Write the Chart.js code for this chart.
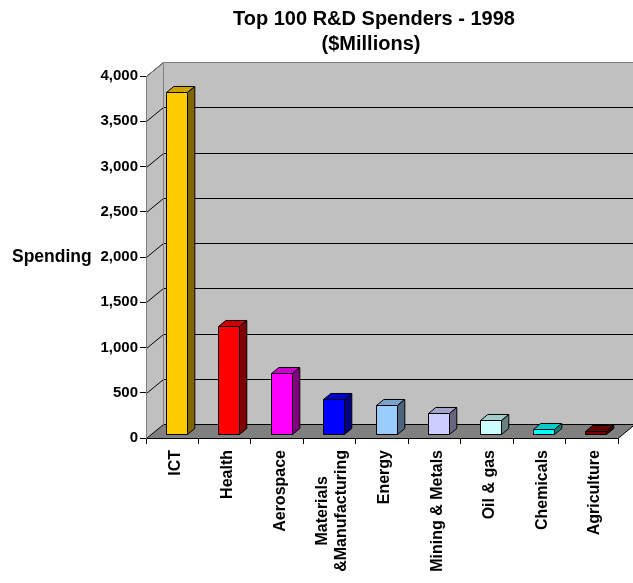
<!DOCTYPE html>
<html>
<head>
<meta charset="utf-8">
<title>Top 100 R&amp;D Spenders - 1998</title>
<script src="https://cdn.jsdelivr.net/npm/chart.js@4.4.1/dist/chart.umd.min.js"></script>
<style>
  body { margin: 0; background: #fff; }
  canvas { display: block; }
</style>
</head>
<body>
<canvas id="rdChart" width="633" height="583"></canvas>
<script>
// sectors and their 1998 R&D spending ($ millions)
const sectors = ['ICT', 'Health', 'Aerospace', ['Materials', '&Manufacturing'], 'Energy',
  'Mining & Metals', 'Oil & gas', 'Chemicals', 'Agriculture'];
const spending = [3790, 1205, 680, 395, 325, 235, 165, 62, 35];
const barColors = ['#FFCC00', '#FF0000', '#FF00FF', '#0000FF', '#99CCFF',
  '#CCCCFF', '#CCFFFF', '#00FFFF', '#800000'];
const titleLines = ['Top 100 R&D Spenders - 1998', '($Millions)'];
const axisTitle = 'Spending';

const FONT = '"Liberation Sans", Arial, sans-serif';
const labelFont = 'bold 16px ' + FONT;

// depth of the 3d box, in px (x to the right, y upward)
const depth = { x: 17, y: -14 };
const barFront = 0.24;  // bars start this far into the depth
const barDepth = 0.43;  // and are this deep

function shade(hex, f) {
  const n = parseInt(hex.slice(1), 16);
  const r = Math.round(((n >> 16) & 255) * f);
  const g = Math.round(((n >> 8) & 255) * f);
  const b = Math.round((n & 255) * f);
  return `rgb(${r},${g},${b})`;
}

function poly(ctx, pts, fill, stroke) {
  ctx.beginPath();
  ctx.moveTo(pts[0][0], pts[0][1]);
  for (let i = 1; i < pts.length; i++) ctx.lineTo(pts[i][0], pts[i][1]);
  ctx.closePath();
  if (fill) { ctx.fillStyle = fill; ctx.fill(); }
  if (stroke) { ctx.strokeStyle = stroke; ctx.stroke(); }
}

const box3d = {
  id: 'box3d',
  // walls, floor and gridlines behind everything
  beforeDraw(chart) {
    const { ctx, chartArea: a, scales: { y } } = chart;
    const dx = depth.x, dy = depth.y;
    const L = Math.round(a.left) + 0.5, B = Math.round(a.bottom) + 0.5;
    const T = Math.round(a.top) + 0.5, R = a.right;
    ctx.save();
    ctx.lineWidth = 1;

    // back wall
    ctx.fillStyle = '#C0C0C0';
    ctx.fillRect(L + dx, T + dy, chart.width - (L + dx), B - T);
    // left wall
    poly(ctx, [[L, T], [L + dx, T + dy], [L + dx, B + dy], [L, B]], '#C0C0C0', null);
    // floor
    poly(ctx, [[L, B], [R, B], [R + dx, B + dy], [L + dx, B + dy]], '#808080', null);

    // gridlines: across the back wall and diagonally on the left wall
    ctx.strokeStyle = '#000';
    y.ticks.forEach(t => {
      const py = Math.round(y.getPixelForValue(t.value)) + 0.5;
      ctx.beginPath();
      ctx.moveTo(L, py);
      ctx.lineTo(L + dx, py + dy);
      ctx.lineTo(chart.width, py + dy);
      ctx.stroke();
    });

    // wall edges
    ctx.strokeStyle = '#808080';
    ctx.beginPath();
    ctx.moveTo(L, T);
    ctx.lineTo(L + dx, T + dy);
    ctx.lineTo(chart.width, T + dy);
    ctx.moveTo(L + dx, T + dy);
    ctx.lineTo(L + dx, B + dy);
    ctx.stroke();
    ctx.strokeStyle = '#000';
    ctx.beginPath();
    ctx.moveTo(R, B);
    ctx.lineTo(R + dx, B + dy);
    ctx.stroke();
    ctx.restore();
  },
  // bars as boxes: front, top and side faces
  beforeDatasetsDraw(chart) {
    const { ctx } = chart;
    const meta = chart.getDatasetMeta(0);
    const ox = depth.x * barFront, oy = depth.y * barFront;
    const bx = depth.x * barDepth, by = depth.y * barDepth;
    ctx.save();
    ctx.lineWidth = 1;
    ctx.lineJoin = 'miter';
    meta.data.forEach(bar => {
      const p = bar.getProps(['x', 'y', 'base', 'width'], true);
      const color = bar.options.backgroundColor;
      const x0 = Math.round(p.x - p.width / 2 + ox) + 0.5;
      const x1 = Math.round(p.x + p.width / 2 + ox) + 0.5;
      const yt = Math.round(p.y + oy) + 0.5;
      const yb = Math.round(p.base + oy) + 0.5;
      poly(ctx, [[x0, yt], [x1, yt], [x1 + bx, yt + by], [x0 + bx, yt + by]], shade(color, 0.8), '#000');
      poly(ctx, [[x1, yt], [x1 + bx, yt + by], [x1 + bx, yb + by], [x1, yb]], shade(color, 0.5), '#000');
      poly(ctx, [[x0, yt], [x1, yt], [x1, yb], [x0, yb]], color, '#000');
    });
    ctx.restore();
    return false;
  },
  afterDraw(chart) {
    const { ctx, scales: { x, y } } = chart;
    ctx.save();
    ctx.fillStyle = '#000';

    // chart title
    ctx.font = 'bold 20px ' + FONT;
    ctx.textAlign = 'center';
    ctx.textBaseline = 'alphabetic';
    ctx.fillText(titleLines[0], 374, 25);
    ctx.fillText(titleLines[1], 371, 50);

    // value axis title, written horizontally
    ctx.font = 'bold 17.5px ' + FONT;
    ctx.textAlign = 'left';
    ctx.textBaseline = 'middle';
    ctx.fillText(axisTitle, 12, y.getPixelForValue(2000));

    // category labels, reading upward; lines of a two-line label
    // are centred on each other, the longest one ending under the axis
    ctx.font = labelFont;
    ctx.textBaseline = 'middle';
    const top = x.bottom - x.height + 12;
    sectors.forEach((label, i) => {
      const lines = Array.isArray(label) ? label : [label];
      const widths = lines.map(s => ctx.measureText(s).width);
      const maxW = Math.max(...widths);
      const lh = 19;
      const cx = x.getPixelForTick(i) + 3 - (lines.length - 1) * lh / 2;
      lines.forEach((s, j) => {
        ctx.save();
        ctx.translate(cx + j * lh, top + maxW / 2);
        ctx.rotate(-Math.PI / 2);
        ctx.textAlign = 'center';
        ctx.fillText(s, lines.length > 1 ? 0 : (maxW - widths[j]) / 2, 0);
        ctx.restore();
      });
    });
    ctx.restore();
  }
};

new Chart(document.getElementById('rdChart'), {
  type: 'bar',
  data: {
    labels: sectors,
    datasets: [{
      label: 'Spending',
      data: spending,
      backgroundColor: barColors,
      borderWidth: 0,
      barPercentage: 0.4,
      categoryPercentage: 1
    }]
  },
  options: {
    responsive: false,
    animation: false,
    events: [],
    layout: { padding: { top: 76, right: 15, left: 0, bottom: 0 } },
    plugins: {
      legend: { display: false },
      title: { display: false },
      tooltip: { enabled: false }
    },
    scales: {
      x: {
        afterFit(scale) { scale.height = 145; },
        border: { display: true, color: '#000', width: 1 },
        grid: { drawOnChartArea: false, drawTicks: true, tickLength: 6, color: '#000' },
        ticks: { display: false, autoSkip: false }
      },
      y: {
        min: 0,
        max: 4000,
        afterFit(scale) { scale.width = 146; },
        border: { display: true, color: '#808080', width: 1 },
        grid: { drawOnChartArea: false, drawTicks: true, tickLength: 6, color: '#000' },
        ticks: {
          stepSize: 500,
          padding: 2,
          color: '#000',
          font: { family: FONT, size: 15, weight: 'bold' }
        }
      }
    }
  },
  plugins: [box3d]
});
</script>
</body>
</html>
